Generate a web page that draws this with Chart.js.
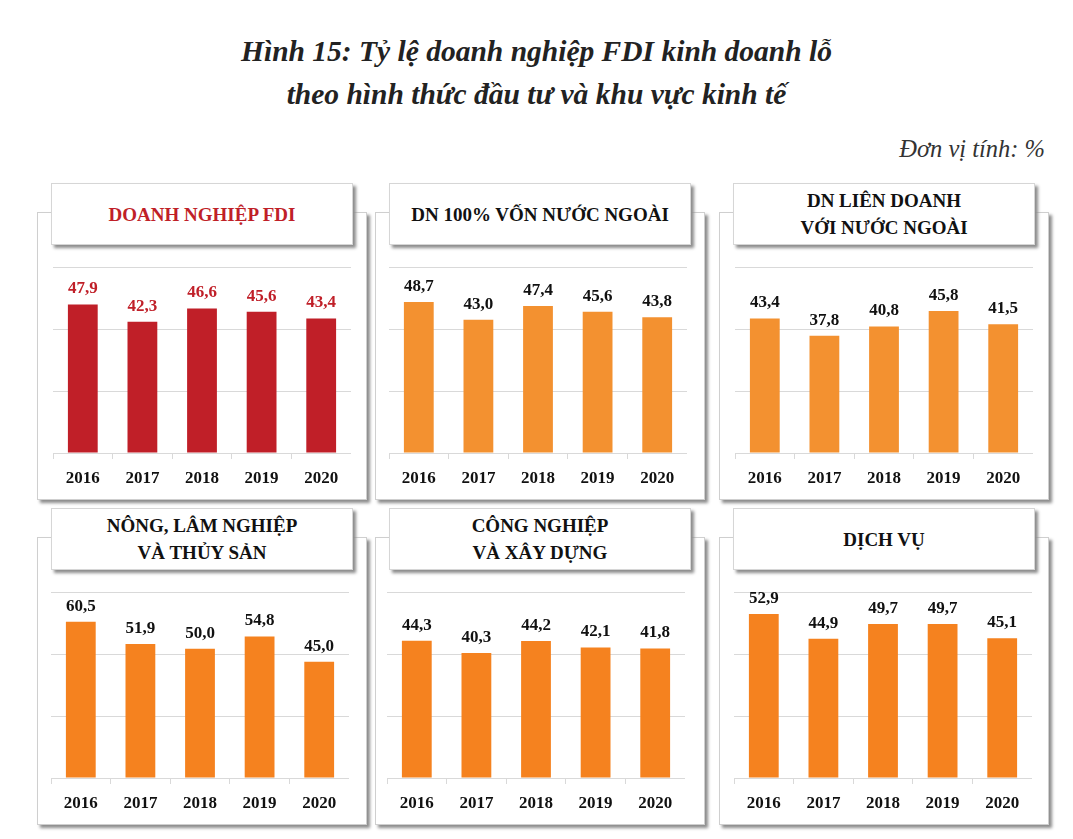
<!DOCTYPE html>
<html>
<head>
<meta charset="utf-8">
<script src="https://cdn.jsdelivr.net/npm/chart.js@4.4.0/dist/chart.umd.min.js"></script>
<style>
  body{margin:0;background:#fff;width:1073px;height:839px;overflow:hidden;position:relative;font-family:"Liberation Serif","Times New Roman",serif}
  .title{position:absolute;left:0;width:1073px;text-align:center;font-weight:bold;font-style:italic;font-size:29.5px;color:#222}
  .unit{position:absolute;right:28px;top:135px;font-style:italic;font-size:24.5px;color:#333}
  .panel{position:absolute;width:328px;height:286px;background:#fff;border:1px solid #cfcfcf;box-shadow:3px 3px 3px #8c8c8c}
  .head{position:absolute;background:#fff;border:1px solid #d6d6d6;box-shadow:3px 3px 3px #8c8c8c;display:flex;align-items:center;justify-content:center;text-align:center;font-weight:bold;font-size:19px;line-height:27px;color:#111}
  canvas{position:absolute}
</style>
</head>
<body>
<div class="title" style="top:35px">Hình 15: Tỷ lệ doanh nghiệp FDI kinh doanh lỗ</div>
<div class="title" style="top:78px">theo hình thức đầu tư và khu vực kinh tế</div>
<div class="unit">Đơn vị tính: %</div>
<div id="wrap"></div>
<script>
// các năm
const years=['2016','2017','2018','2019','2020']

// số liệu từng khu vực (%)
const fdi=[47.9,42.3,46.6,45.6,43.4]
const von100=[48.7,43.0,47.4,45.6,43.8]
const lienDoanh=[43.4,37.8,40.8,45.8,41.5]
const nongLam=[60.5,51.9,50.0,54.8,45.0]
const congNghiep=[44.3,40.3,44.2,42.1,41.8]
const dichVu=[52.9,44.9,49.7,49.7,45.1]

const titles=['DOANH NGHIỆP FDI','DN 100% VỐN NƯỚC NGOÀI','DN LIÊN DOANH<br>VỚI NƯỚC NGOÀI',
  'NÔNG, LÂM NGHIỆP<br>VÀ THỦY SẢN','CÔNG NGHIỆP<br>VÀ XÂY DỰNG','DỊCH VỤ']
const series=[fdi,von100,lienDoanh,nongLam,congNghiep,dichVu]
const axisMax=[60,60,60,72,60,60]

const red='#c01f28'
const orange1='#f39130'
const orange2='#f5821f'

// vị trí các ô
const cols=[37,375,719]
const rows=[212,537]
const plotLeft=[[53,389,735],[51,387,734]]

// plugin nhỏ để ghi giá trị trên cột
const valueLabels={
  id:'valueLabels',
  afterDatasetsDraw(chart,args,opts){
    const ctx=chart.ctx
    const meta=chart.getDatasetMeta(0)
    ctx.save()
    ctx.font='bold 17px "Liberation Serif"'
    ctx.fillStyle=opts.color
    ctx.textAlign='center'
    ctx.textBaseline='bottom'
    meta.data.forEach((bar,i)=>{
      const v=chart.data.datasets[0].data[i]
      ctx.fillText(v.toFixed(1).replace('.',','),bar.x,bar.y-7)
    })
    ctx.restore()
  }
}

const wrap=document.getElementById('wrap')

series.forEach((data,k)=>{
  const r=Math.floor(k/3), c=k%3
  const panel=document.createElement('div')
  panel.className='panel'
  panel.style.left=cols[c]+'px'
  panel.style.top=rows[r]+'px'
  wrap.appendChild(panel)

  const head=document.createElement('div')
  head.className='head'
  head.style.left=(cols[c]+14)+'px'
  head.style.top=(rows[r]-29)+'px'
  head.style.width='300px'
  head.style.height='60px'
  head.innerHTML=titles[k]
  if(k===0) head.style.color=red
  wrap.appendChild(head)

  const cv=document.createElement('canvas')
  const top=rows[r]+38
  cv.style.left=plotLeft[r][c]+'px'
  cv.style.top=top+'px'
  cv.width=298
  cv.height=245
  wrap.appendChild(cv)

  const color=k===0?red:(r===0?orange1:orange2)

  new Chart(cv,{
    type:'bar',
    data:{
      labels:years,
      datasets:[{data,backgroundColor:color,barPercentage:0.5,categoryPercentage:1}]
    },
    options:{
      responsive:false,
      animation:false,
      layout:{padding:{top:17,left:0,right:0,bottom:0}},
      plugins:{
        legend:{display:false},
        tooltip:{enabled:false},
        valueLabels:{color:k===0?red:'#111'}
      },
      scales:{
        x:{
          grid:{drawOnChartArea:false,color:'#d9d9d9',tickLength:6},
          border:{color:'#d9d9d9'},
          ticks:{color:'#111',font:{family:'Liberation Serif',size:17,weight:'bold'},padding:9},
          afterFit:s=>{s.height=42}
        },
        y:{
          min:0,max:axisMax[k],
          ticks:{display:false,stepSize:axisMax[k]/3},
          grid:{color:'#d9d9d9',drawTicks:false},
          border:{display:false},
          afterFit:s=>{s.width=0}
        }
      }
    },
    plugins:[valueLabels]
  })
})
</script>
</body>
</html>
